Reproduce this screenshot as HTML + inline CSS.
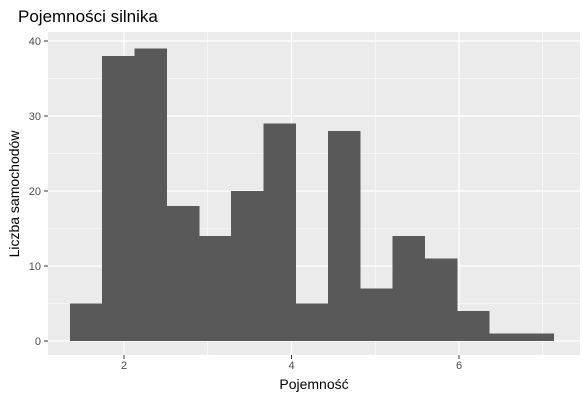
<!DOCTYPE html>
<html><head><meta charset="utf-8"><style>
body{margin:0;background:#fff;font-family:"Liberation Sans",sans-serif}
</style></head><body>
<svg width="586" height="400" id="c" xmlns="http://www.w3.org/2000/svg">
<text x="18" y="22" font-size="17" fill="#000">Pojemności silnika</text>
<rect x="48" y="32" width="532" height="323" fill="#ebebeb"/>
<g id="grid"></g><g id="bars" shape-rendering="crispEdges"></g><g id="axes"></g>
<text x="314" y="389" font-size="14" text-anchor="middle">Pojemność</text>
<text transform="translate(19,194) rotate(-90)" font-size="14" text-anchor="middle">Liczba samochodów</text>
</svg>
<script>
const binStart = 1.355;
const binWidth = 0.385;
const counts = [5,38,39,18,14,20,29,5,28,7,14,11,4,1,1];
const xTicks = [2,4,6];
const xMinor = [3,5,7];
const yTicks = [0,10,20,30,40];
const yMinor = [5,15,25,35];
const ns="http://www.w3.org/2000/svg";
const X=v=>124+(v-2)*83.75;
const Y=v=>341-v*7.5;
function mk(t,a,p){const e=document.createElementNS(ns,t);for(const k in a)e.setAttribute(k,a[k]);p.appendChild(e);return e;}
const g=document.getElementById('grid'),b=document.getElementById('bars'),ax=document.getElementById('axes');
yMinor.forEach(v=>{const l=mk('line',{x1:48,x2:580,y1:Y(v),y2:Y(v),stroke:'#fff','stroke-width':0.6},g);

});
xMinor.forEach(v=>{const l=mk('line',{x1:X(v),x2:X(v),y1:32,y2:355,stroke:'#fff','stroke-width':0.6},g);

});
yTicks.forEach(v=>{const l=mk('line',{x1:48,x2:580,y1:Y(v),y2:Y(v),stroke:'#fff','stroke-width':1.2},g);


const t=mk('text',{x:41,y:Y(v)+4,'font-size':11,fill:'#4d4d4d','text-anchor':'end'},ax);t.textContent=v;


mk('line',{x1:44,x2:48,y1:Y(v),y2:Y(v),stroke:'#333'},ax);});
xTicks.forEach(v=>{const l=mk('line',{x1:X(v),x2:X(v),y1:32,y2:355,stroke:'#fff','stroke-width':1.2},g);


const t=mk('text',{x:X(v),y:369,'font-size':11,fill:'#4d4d4d','text-anchor':'middle'},ax);t.textContent=v;


mk('line',{x1:X(v),x2:X(v),y1:355,y2:359,stroke:'#333'},ax);});
counts.forEach((c,i)=>{const x0=X(binStart+i*binWidth),x1=X(binStart+(i+1)*binWidth);
const r=mk('rect',{x:x0,y:Y(c),width:x1-x0+0.5,height:Y(0)-Y(c),fill:'#595959'},b);

});
</script>
</body></html>
